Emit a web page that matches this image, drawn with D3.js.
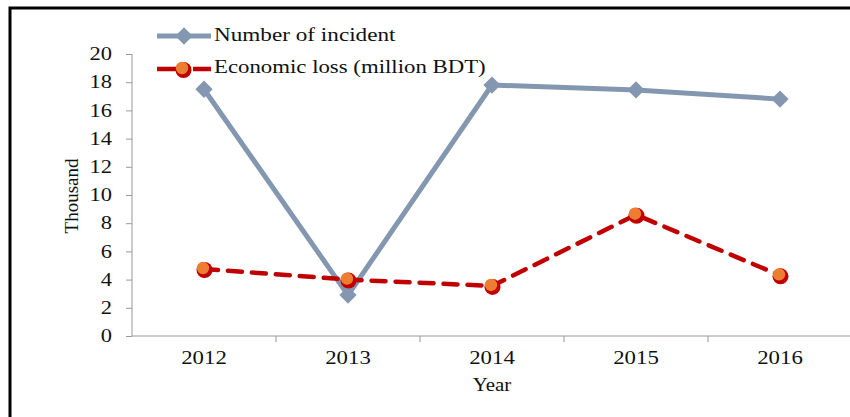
<!DOCTYPE html>
<html><head><meta charset="utf-8">
<script src="https://cdn.jsdelivr.net/npm/d3@7"></script>
<style>body{margin:0;background:#fff}svg{display:block}text{font-family:"Liberation Serif","Times New Roman",serif;fill:#111}</style>
</head><body><svg id="c" width="850" height="417"></svg>
<script>
const years = ["2012","2013","2014","2015","2016"];
const incidents = [17.5, 2.9, 17.8, 17.45, 16.8];
const loss = [4.75, 4.0, 3.55, 8.6, 4.3];
const yTicks = [0,2,4,6,8,10,12,14,16,18,20];
const seriesNames = ["Number of incident","Economic loss (million BDT)"];

const svg = d3.select("#c");
function stretch(sel, f){
  sel.each(function(){
    const w = this.getComputedTextLength();
    d3.select(this).attr("textLength", w*f).attr("lengthAdjust","spacingAndGlyphs");
  });
}
// frame (top and left edges visible)
svg.append("path").attr("d","M10,417 L10,8 L850,8").attr("fill","none").attr("stroke","#000").attr("stroke-width",3);

const x = d3.scaleBand().domain(years).range([132,852]);
const y = d3.scaleLinear().domain([0,20]).range([336,54]);
const cx = d => x(d)+x.bandwidth()/2;

const gy = svg.append("g").attr("transform","translate(132,0)")
  .call(d3.axisLeft(y).tickValues(yTicks).tickSize(6).tickPadding(14));
gy.select(".domain").attr("stroke","#999").attr("d","M0,54V336");
gy.selectAll(".tick line").attr("stroke","#999");
gy.selectAll("text").style("font-size","18px").attr("font-family",null).call(stretch,1.25);

const gx = svg.append("g").attr("transform","translate(0,336)")
  .call(d3.axisBottom(x).tickSize(0).tickPadding(15));
gx.select(".domain").attr("stroke","#999").attr("d","M132,0H852");
gx.selectAll("text").style("font-size","19px").attr("font-family",null).call(stretch,1.2);
// category boundary ticks
gx.selectAll(".bt").data(years.slice(1)).enter().append("line")
  .attr("x1",d=>x(d)).attr("x2",d=>x(d)).attr("y1",0).attr("y2",6).attr("stroke","#999");

svg.append("text").attr("transform","translate(78,196) rotate(-90)").attr("text-anchor","middle")
  .style("font-size","19px").text("Thousand");
svg.append("text").attr("x",492).attr("y",391).attr("text-anchor","middle")
  .style("font-size","19px").text("Year").call(stretch,1.1);

const gray = "#8497B0", red = "#C00000", orange = "#ED7D31";
const line = d3.line().x((d,i)=>cx(years[i])).y(d=>y(d));

svg.append("path").datum(incidents).attr("d",line).attr("fill","none")
  .attr("stroke",gray).attr("stroke-width",5).attr("stroke-linejoin","round");
const diamond = d3.symbol().type(d3.symbolDiamond2).size(190);
svg.selectAll(".dm").data(incidents).enter().append("path")
  .attr("d",diamond).attr("fill",gray)
  .attr("transform",(d,i)=>`translate(${cx(years[i])},${y(d)})`);

svg.append("path").datum(loss).attr("d",line).attr("fill","none")
  .attr("stroke",red).attr("stroke-width",4.5).attr("stroke-dasharray","14,10").attr("stroke-linecap","round");
function marker(g, px, py){
  g.append("circle").attr("cx",px+0.5).attr("cy",py+1).attr("r",8).attr("fill",red);
  g.append("circle").attr("cx",px-1).attr("cy",py-1).attr("r",6.2).attr("fill",orange);
}
const mg = svg.append("g");
loss.forEach((d,i)=>marker(mg, cx(years[i]), y(d)));

// legend
const lg = svg.append("g");
lg.append("line").attr("x1",157).attr("x2",211).attr("y1",36).attr("y2",36).attr("stroke",gray).attr("stroke-width",5);
lg.append("path").attr("d",diamond).attr("fill",gray).attr("transform","translate(184,36)");
lg.append("text").attr("x",214).attr("y",41).style("font-size","19px").text(seriesNames[0]).call(stretch,1.22);
lg.append("line").attr("x1",157).attr("x2",211).attr("y1",69).attr("y2",69).attr("stroke",red).attr("stroke-width",4.5).attr("stroke-dasharray","28,8,20");
marker(lg,183,69);
lg.append("text").attr("x",214).attr("y",73).style("font-size","19px").text(seriesNames[1]).call(stretch,1.2);
</script></body></html>
